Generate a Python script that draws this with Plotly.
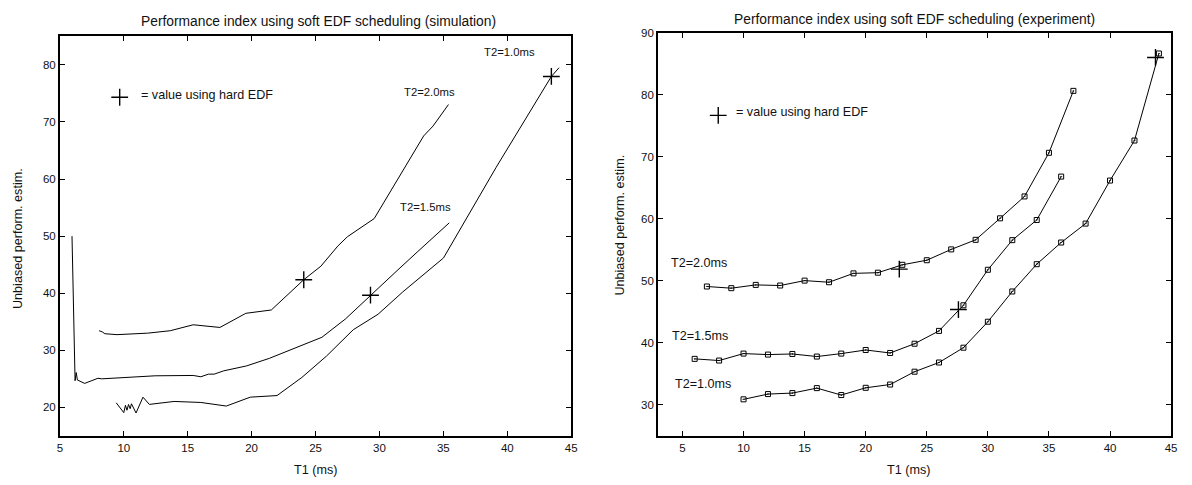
import plotly.graph_objects as go

# ---- simulation (left panel) ----
sim_t2_20_x = [8.07, 8.34, 8.52, 9.47, 11.86, 13.64, 15.43, 17.52, 19.55, 21.54, 24.08, 25.42,
               26.76, 27.5, 29.59, 31.53, 33.46, 34.2, 35.4]
sim_t2_20_y = [33.43, 33.2, 32.9, 32.74, 33.0, 33.43, 34.47, 34.0, 36.48, 37.06, 42.36, 44.73,
               48.3, 49.9, 53.07, 60.31, 67.55, 69.3, 73.05]

sim_t2_15_x = [5.95, 6.19, 6.28, 6.37, 6.94, 7.98, 8.28, 10.37, 12.45, 15.43, 16.03, 16.62, 17.07,
               17.82, 19.6, 21.39, 23.78, 25.5, 27.35, 29.35, 31.53, 33.0, 35.46]
sim_t2_15_y = [50.0, 24.67, 26.1, 24.8, 24.2, 25.1, 25.0, 25.24, 25.53, 25.59, 25.36, 25.82, 25.82,
               26.4, 27.26, 28.59, 30.72, 32.28, 35.5, 39.77, 44.27, 47.3, 52.32]

sim_t2_10_x = [9.41, 10.0, 10.13, 10.25, 10.37, 10.5, 10.6, 10.96, 11.5, 12.0, 13.94, 16.03, 18.02,
               19.9, 21.99, 23.93, 25.86, 27.95, 29.89, 31.83, 35.01, 39.13, 43.45, 44.05]
sim_t2_10_y = [20.8, 19.08, 20.35, 19.5, 20.5, 19.77, 20.63, 19.02, 21.79, 20.52, 21.04, 20.86, 20.23,
               21.79, 22.07, 25.24, 28.99, 33.6, 36.31, 40.23, 46.17, 62.05, 77.97, 79.5]

sim_hard_x = [24.08, 29.3, 43.45]
sim_hard_y = [42.36, 39.65, 77.97]

# ---- experiment (right panel) ----
exp_t2_20_x = [7, 9, 11, 13, 15, 17, 19, 21, 23, 25, 27, 29, 31, 33, 35, 37]
exp_t2_20_y = [49.1, 48.83, 49.36, 49.26, 50.05, 49.79, 51.22, 51.33, 52.6, 53.34, 55.09,
               56.63, 60.1, 63.63, 70.67, 80.66]

exp_t2_15_x = [6, 8, 10, 12, 14, 16, 18, 20, 22, 24, 26, 28, 30, 32, 34, 36]
exp_t2_15_y = [37.43, 37.16, 38.28, 38.12, 38.22, 37.8, 38.28, 38.86, 38.38, 39.87, 41.94,
               46.07, 51.8, 56.58, 59.83, 66.83]

exp_t2_10_x = [10, 12, 14, 16, 18, 20, 22, 24, 26, 28, 30, 32, 34, 36, 38, 40, 42, 44]
exp_t2_10_y = [30.9, 31.75, 31.91, 32.71, 31.59, 32.76, 33.29, 35.36, 36.84, 39.23, 43.42,
               48.3, 52.7, 56.2, 59.25, 66.19, 72.65, 86.69]

exp_hard_x = [22.75, 27.59, 43.72]
exp_hard_y = [51.9, 45.38, 86.05]

x_ticks = [5, 10, 15, 20, 25, 30, 35, 40, 45]
sim_y_ticks = [20, 30, 40, 50, 60, 70, 80]
exp_y_ticks = [30, 40, 50, 60, 70, 80, 90]

FONT = "Liberation Sans, Arial, sans-serif"
INK = "#111111"
W, H = 1192, 485

fig = go.Figure()

line_style = dict(color="black", width=1)
cross = dict(symbol="cross-thin", size=12, color="black", line=dict(color="black", width=1.4))
square = dict(symbol="square-open-dot", size=5, color="black", line=dict(color="black", width=1))

for xs, ys in [(sim_t2_20_x, sim_t2_20_y), (sim_t2_15_x, sim_t2_15_y), (sim_t2_10_x, sim_t2_10_y)]:
    fig.add_trace(go.Scatter(x=xs, y=ys, mode="lines", line=line_style,
                             xaxis="x", yaxis="y", showlegend=False, hoverinfo="skip"))
fig.add_trace(go.Scatter(x=sim_hard_x, y=sim_hard_y, mode="markers", marker=cross,
                         xaxis="x", yaxis="y", showlegend=False))
fig.add_trace(go.Scatter(x=[9.68], y=[74.33], mode="markers", marker=cross,
                         xaxis="x", yaxis="y", showlegend=False))

for xs, ys in [(exp_t2_20_x, exp_t2_20_y), (exp_t2_15_x, exp_t2_15_y), (exp_t2_10_x, exp_t2_10_y)]:
    fig.add_trace(go.Scatter(x=xs, y=ys, mode="lines+markers", line=line_style, marker=square,
                             xaxis="x2", yaxis="y2", showlegend=False))
fig.add_trace(go.Scatter(x=exp_hard_x, y=exp_hard_y, mode="markers", marker=cross,
                         xaxis="x2", yaxis="y2", showlegend=False))
fig.add_trace(go.Scatter(x=[7.93], y=[76.7], mode="markers", marker=cross,
                         xaxis="x2", yaxis="y2", showlegend=False))

axis_common = dict(
    showgrid=False, zeroline=False, showline=True, linecolor="black", linewidth=1.6,
    mirror="allticks", ticks="inside", ticklen=5, tickwidth=1, tickcolor="black",
    tickfont=dict(family=FONT, size=11.5, color=INK),
)

bottom = (H - 435.3) / H
fig.update_layout(
    width=W, height=H,
    margin=dict(l=0, r=0, t=0, b=0),
    paper_bgcolor="white", plot_bgcolor="white",
    xaxis=dict(domain=[57.3 / W, 572.5 / W], range=[5, 45], tickvals=x_ticks,
               anchor="y", **axis_common),
    yaxis=dict(domain=[bottom, (H - 30.7) / H], range=[15, 85], tickvals=sim_y_ticks,
               anchor="x", **axis_common),
    xaxis2=dict(domain=[660 / W, 1177 / W], range=[3, 45], tickvals=x_ticks,
                anchor="y2", **axis_common),
    yaxis2=dict(domain=[bottom, (H - 27.3) / H], range=[25, 90], tickvals=exp_y_ticks,
                anchor="x2", **axis_common),
)

title_font = dict(family=FONT, size=13.8, color=INK)
axis_font = dict(family=FONT, size=12.6, color=INK)
note_font = dict(family=FONT, size=12.6, color=INK)
curve_font = dict(family=FONT, size=11.3, color=INK)

annotations = [
    # panel titles
    dict(text="Performance index using soft EDF scheduling (simulation)", xref="paper", yref="paper",
         x=318 / W, y=(H - 15.3) / H, showarrow=False, font=title_font, xanchor="center", yanchor="middle"),
    dict(text="Performance index using soft EDF scheduling (experiment)", xref="paper", yref="paper",
         x=918.5 / W, y=(H - 13.3) / H, showarrow=False, font=title_font, xanchor="center", yanchor="middle"),
    # axis titles
    dict(text="T1 (ms)", xref="paper", yref="paper", x=315 / W, y=(H - 470) / H,
         showarrow=False, font=axis_font, xanchor="center", yanchor="middle"),
    dict(text="T1 (ms)", xref="paper", yref="paper", x=912 / W, y=(H - 470) / H,
         showarrow=False, font=axis_font, xanchor="center", yanchor="middle"),
    dict(text="Unbiased perform. estim.", xref="paper", yref="paper", x=15 / W, y=(H - 235) / H,
         showarrow=False, font=axis_font, textangle=-90, xanchor="center", yanchor="middle"),
    dict(text="Unbiased perform. estim.", xref="paper", yref="paper", x=622 / W, y=(H - 222) / H,
         showarrow=False, font=axis_font, textangle=-90, xanchor="center", yanchor="middle"),
    # left panel labels
    dict(text="= value using hard EDF", xref="x", yref="y", x=11.17, y=74.79, showarrow=False,
         font=note_font, xanchor="left", yanchor="middle"),
    dict(text="T2=1.0ms", xref="x", yref="y", x=40.17, y=82.2, showarrow=False,
         font=curve_font, xanchor="center", yanchor="middle"),
    dict(text="T2=2.0ms", xref="x", yref="y", x=33.91, y=75.19, showarrow=False,
         font=curve_font, xanchor="center", yanchor="middle"),
    dict(text="T2=1.5ms", xref="x", yref="y", x=33.61, y=55.1, showarrow=False,
         font=curve_font, xanchor="center", yanchor="middle"),
    # right panel labels
    dict(text="= value using hard EDF", xref="x2", yref="y2", x=9.18, y=77.19, showarrow=False,
         font=note_font, xanchor="left", yanchor="middle"),
    dict(text="T2=2.0ms", xref="x2", yref="y2", x=3.88, y=52.86, showarrow=False,
         font=axis_font, xanchor="left", yanchor="middle"),
    dict(text="T2=1.5ms", xref="x2", yref="y2", x=3.97, y=41.19, showarrow=False,
         font=axis_font, xanchor="left", yanchor="middle"),
    dict(text="T2=1.0ms", xref="x2", yref="y2", x=4.19, y=33.34, showarrow=False,
         font=axis_font, xanchor="left", yanchor="middle"),
]
fig.update_layout(annotations=annotations)

fig.write_html("out.html")
